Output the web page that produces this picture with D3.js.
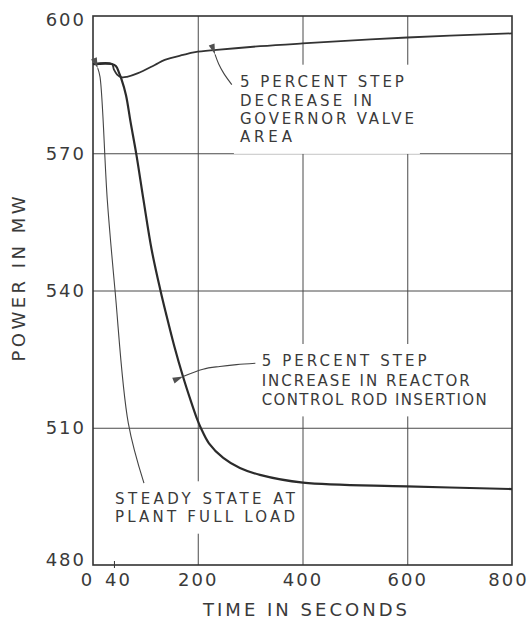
<!DOCTYPE html>
<html lang="en">
<head>
<meta charset="utf-8">
<title>power response</title>
<script src="https://cdn.jsdelivr.net/npm/d3@7"></script>
<style>
body { margin: 0; background: #fff; }
text { font-family: "DejaVu Sans", sans-serif; fill: #3a3a3a; }
</style>
</head>
<body>
<script>

// governor valve area step
var timeGov  = [0, 36, 40, 46, 55, 65, 86, 118, 137, 172, 195, 236, 319, 400, 600, 800];
var powerGov = [589.5, 589.5, 588.3, 587.2, 586.6, 586.7, 587.5, 589.3, 590.4, 591.5, 592.1, 592.6, 593.4, 594.0, 595.3, 596.2];

// control rod insertion step
var timeRod  = [0, 36, 44, 50, 54, 63, 71.6, 83, 96.4, 112, 128.8, 139.3, 155.5, 171.8, 186.1, 199.4, 206.1, 221.4, 248.7, 280.5, 318.7, 401, 599, 800];
var powerRod = [589.5, 589.5, 589.0, 587.5, 586.3, 582.7, 576.9, 569.6, 559.8, 548.9, 540, 535.0, 527.7, 521.2, 516.1, 511.7, 509.9, 506.6, 503.4, 501.2, 499.7, 498.0, 497.2, 496.6];

var yTicks = [480, 510, 540, 570, 600];
var xTicks = [0, 40, 200, 400, 600, 800];
var xGrid = [200, 400, 600];

var govText = ["5 PERCENT STEP", "DECREASE  IN", "GOVERNOR VALVE", "AREA"];
var rodText = ["5 PERCENT STEP", "INCREASE IN REACTOR", "CONTROL ROD INSERTION"];
var steadyText = ["STEADY  STATE  AT", "PLANT FULL LOAD"];

var margin = {top: 16, left: 93};
var w = 419, h = 549;

var svg = d3.select("body").append("svg")
    .attr("width", 531).attr("height", 621);

var defs = svg.append("defs");
defs.append("marker")
    .attr("id", "arr")
    .attr("viewBox", "0 0 12 8")
    .attr("refX", 0).attr("refY", 4)
    .attr("markerWidth", 12).attr("markerHeight", 7)
    .attr("markerUnits", "userSpaceOnUse")
    .attr("orient", "auto-start-reverse")
  .append("path")
    .attr("d", "M0,4 L12,0.5 L12,7.5 Z")
    .attr("fill", "#505050");

var g = svg.append("g").attr("transform", "translate(" + margin.left + "," + margin.top + ")");

var x = d3.scaleLinear().domain([0, 800]).range([0, w]);
var y = d3.scaleLinear().domain([480, 600]).range([h, 0]);

// grid lines
var grid = g.append("g");
grid.append("g").call(d3.axisLeft(y).tickValues([510, 540, 570]).tickSize(-w).tickFormat(""));
grid.append("g").call(d3.axisTop(x).tickValues(xGrid).tickSize(-h).tickFormat(""));
grid.selectAll(".domain").remove();
grid.selectAll("line").attr("stroke", "#4a4a4a").attr("stroke-width", 1);

// annotation blocks, white behind text breaks the grid
function block(lines, t0, yTop, step, lens) {
  var bx = x(t0), bw = d3.max(lens) + 12;
  g.append("rect")
    .attr("x", bx - 6).attr("y", yTop - margin.top - 17)
    .attr("width", bw).attr("height", step * (lines.length - 1) + 34)
    .attr("fill", "#fff");
  g.selectAll(null).data(lines).enter().append("text")
    .attr("x", bx)
    .attr("y", function(d, i) { return yTop - margin.top + i * step; })
    .attr("dy", "0.36em")
    .attr("font-size", 15)
    .attr("textLength", function(d, i) { return lens[i]; })
    .attr("lengthAdjust", "spacing")
    .text(function(d) { return d; });
}
block(govText, 280.5, 81.7, 18.4, [164, 132, 174, 52]);
block(rodText, 322, 361, 19.2, [165, 208, 225]);
block(steadyText, 42, 498.3, 18.4, [180, 180]);

// frame
g.append("rect").attr("width", w).attr("height", h)
    .attr("fill", "none").attr("stroke", "#333").attr("stroke-width", 1.6);

// curves
var line = d3.line()
    .x(function(d) { return x(d[0]); })
    .y(function(d) { return y(d[1]); })
    .curve(d3.curveCatmullRom.alpha(0.5));

g.append("path").datum(d3.zip(timeGov, powerGov))
    .attr("d", line).attr("fill", "none")
    .attr("stroke", "#333").attr("stroke-width", 1.8);
g.append("path").datum(d3.zip(timeRod, powerRod))
    .attr("d", line).attr("fill", "none")
    .attr("stroke", "#2b2b2b").attr("stroke-width", 2.2);

// leaders
var leaderTime = [
  [9, 13.4, 27.3, 42, 67.4, 97.3],
  [233, 240, 250, 265],
  [172, 210, 242, 274, 310]
];
var leaderPower = [
  [588.6, 586.7, 559.8, 540.1, 511.0, 497.9],
  [591.6, 589.5, 587.4, 585],
  [521.2, 522.8, 523.4, 523.8, 524.1]
];
var lead = d3.line()
    .x(function(d) { return x(d[0]); })
    .y(function(d) { return y(d[1]); })
    .curve(d3.curveCatmullRom);
leaderTime.forEach(function(t, i) {
  g.append("path").datum(d3.zip(t, leaderPower[i]))
    .attr("d", lead).attr("fill", "none")
    .attr("stroke", "#444").attr("stroke-width", 1.1)
    .attr("marker-start", "url(#arr)");
});

// axis labels
var xShift = {0: -6, 40: 4, 800: -4};
var yShift = {480: -5, 600: 4};
var ya = g.append("g").call(d3.axisLeft(y).tickValues(yTicks).tickSize(0).tickPadding(7));
var xa = g.append("g").attr("transform", "translate(0," + h + ")")
    .call(d3.axisBottom(x).tickValues(xTicks).tickSize(0).tickPadding(8).tickFormat(d3.format("d")));
[ya, xa].forEach(function(a) {
  a.select(".domain").remove();
  a.selectAll("text").attr("font-size", 18).attr("font-family", "DejaVu Sans, sans-serif")
    .attr("fill", "#3a3a3a").style("letter-spacing", "2px");
});
xa.selectAll("text").attr("dx", function(d) { return xShift[d] || 0; });
ya.selectAll("text").attr("y", function(d) { return yShift[d] || 0; });
g.append("g").attr("transform", "translate(0," + (h + 3) + ")")
    .call(d3.axisBottom(x).tickValues([40]).tickSize(-7).tickFormat(""))
    .call(function(s) { s.select(".domain").remove(); s.selectAll("line").attr("stroke", "#333"); });

svg.append("text")
    .attr("x", 305).attr("y", 610).attr("dy", "0.36em")
    .attr("text-anchor", "middle").attr("font-size", 18)
    .attr("textLength", 204).attr("lengthAdjust", "spacing")
    .text("TIME IN SECONDS");
svg.append("text")
    .attr("transform", "translate(19,279) rotate(-90)")
    .attr("dy", "0.36em")
    .attr("text-anchor", "middle").attr("font-size", 18)
    .attr("textLength", 165).attr("lengthAdjust", "spacing")
    .text("POWER IN MW");

</script>
</body>
</html>
